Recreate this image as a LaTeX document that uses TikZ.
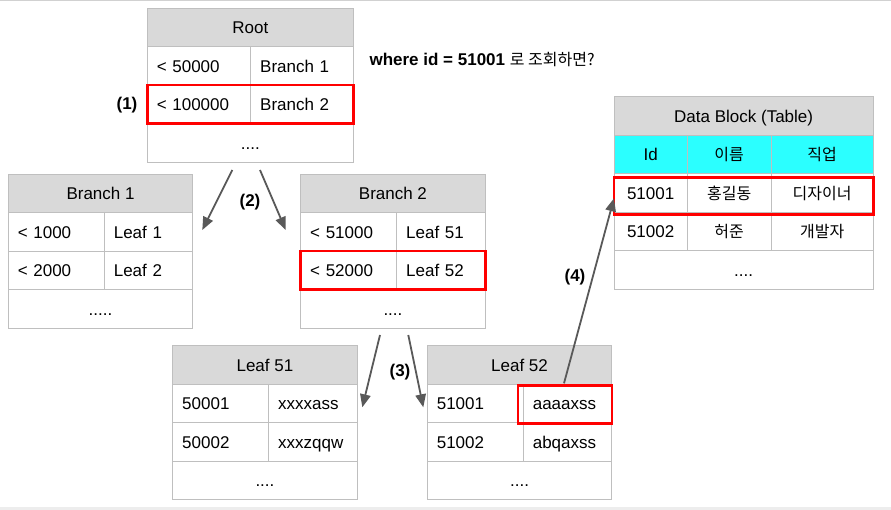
\documentclass[tikz,border=0pt]{standalone}
\usepackage{fontspec}
\setmainfont{Liberation Sans}
\newfontfamily\korfont{Noto Sans CJK KR}
\usetikzlibrary{arrows.meta,positioning}

\definecolor{linegray}{RGB}{191,191,191}
\definecolor{headgray}{RGB}{217,217,217}
\definecolor{hitred}{RGB}{255,0,0}
\definecolor{arrowgray}{RGB}{89,89,89}
\definecolor{colcyan}{RGB}{43,255,255}
\newcommand{\cellfont}{\fontsize{17}{20}\selectfont}
\newcommand{\kor}[1]{{\korfont\fontsize{16}{18}\selectfont #1}}

\tikzset{
  cell/.style={draw=linegray, line width=0.9pt, inner sep=0pt, outer sep=0pt,
    anchor=north west, minimum height=38.5pt, text height=12.6pt, text depth=0pt,
    font=\cellfont},
  head/.style={cell, fill=headgray},
  keycell/.style={cell, text width=#1, align=left, inner xsep=9.5pt},
  hit/.style={draw=hitred, line width=2.6pt},
  hop/.style={draw=arrowgray, line width=1.8pt, -{Triangle[length=13pt,width=10.5pt]}},
  steplabel/.style={font=\bfseries\cellfont},
}

\begin{document}
\begin{tikzpicture}[x=1pt,y=-1pt]
   \useasboundingbox (0,0) rectangle (891,510);
   \fill[black!18] (0,0) rectangle (891,1.5);
   \fill[black!7] (0,507) rectangle (891,510);

   % root
   \node[head, minimum width=206pt] (root) at (147.3,8) {Root};
   \node[keycell=84.4pt] (rk1) at (root.south west) {< 50000};
   \node[keycell=83.6pt] (rv1) at (rk1.north east) {Branch 1};
   \node[keycell=84.4pt] (rk2) at (rk1.south west) {< 100000};
   \node[keycell=83.6pt] (rv2) at (rk2.north east) {Branch 2};
   \node[cell, minimum width=206pt] (rdots) at (rk2.south west) {....};
   \draw[hit] (rk2.north west) rectangle (rv2.south east);

   \node[anchor=west, font=\cellfont] (query) at (366,60)
     {\textbf{where id = 51001} \kor{로 조회하면?}};

   % branch 1
   \node[head, minimum width=184.5pt] (b1) at (8.3,174) {Branch 1};
   \node[keycell=77pt] (b1k1) at (b1.south west) {< 1000};
   \node[keycell=69.5pt] (b1v1) at (b1k1.north east) {Leaf 1};
   \node[keycell=77pt] (b1k2) at (b1k1.south west) {< 2000};
   \node[keycell=69.5pt] (b1v2) at (b1k2.north east) {Leaf 2};
   \node[cell, minimum width=184.5pt] (b1dots) at (b1k2.south west) {.....};

   % branch 2
   \node[head, minimum width=184.5pt] (b2) at (300.7,174) {Branch 2};
   \node[keycell=77pt] (b2k1) at (b2.south west) {< 51000};
   \node[keycell=69.5pt] (b2v1) at (b2k1.north east) {Leaf 51};
   \node[keycell=77pt] (b2k2) at (b2k1.south west) {< 52000};
   \node[keycell=69.5pt] (b2v2) at (b2k2.north east) {Leaf 52};
   \node[cell, minimum width=184.5pt] (b2dots) at (b2k2.south west) {....};
   \draw[hit] (b2k2.north west) rectangle (b2v2.south east);

   % leaf 51
   \node[head, minimum width=184.5pt] (l51) at (172.7,345.7) {Leaf 51};
   \node[keycell=77pt] (l51k1) at (l51.south west) {50001};
   \node[keycell=69.5pt] (l51v1) at (l51k1.north east) {xxxxass};
   \node[keycell=77pt] (l51k2) at (l51k1.south west) {50002};
   \node[keycell=69.5pt] (l51v2) at (l51k2.north east) {xxxzqqw};
   \node[cell, minimum width=184.5pt] (l51dots) at (l51k2.south west) {....};

   % leaf 52
   \node[head, minimum width=184.5pt] (l52) at (427.3,345.7) {Leaf 52};
   \node[keycell=77pt] (l52k1) at (l52.south west) {51001};
   \node[keycell=69.5pt] (l52v1) at (l52k1.north east) {aaaaxss};
   \node[keycell=77pt] (l52k2) at (l52k1.south west) {51002};
   \node[keycell=69.5pt] (l52v2) at (l52k2.north east) {abqaxss};
   \node[cell, minimum width=184.5pt] (l52dots) at (l52k2.south west) {....};
   \draw[hit] ([xshift=-5.5pt,yshift=-1pt]l52v1.north west) rectangle ([yshift=-1pt]l52v1.south east);

   % data block
   \node[head, minimum width=259.3pt] (data) at (614,96.8) {Data Block (Table)};
   \node[cell, fill=colcyan, minimum width=73.3pt] (dc1) at (data.south west) {Id};
   \node[cell, fill=colcyan, minimum width=83.7pt] (dc2) at (dc1.north east) {\kor{이름}};
   \node[cell, fill=colcyan, minimum width=102.3pt] (dc3) at (dc2.north east) {\kor{직업}};
   \node[cell, minimum width=73.3pt] (dk1) at (dc1.south west) {51001};
   \node[cell, minimum width=83.7pt] (dn1) at (dk1.north east) {\kor{홍길동}};
   \node[cell, minimum width=102.3pt] (dj1) at (dn1.north east) {\kor{디자이너}};
   \node[cell, minimum width=73.3pt] (dk2) at (dk1.south west) {51002};
   \node[cell, minimum width=83.7pt] (dn2) at (dk2.north east) {\kor{허준}};
   \node[cell, minimum width=102.3pt] (dj2) at (dn2.north east) {\kor{개발자}};
   \node[cell, minimum width=259.3pt] (ddots) at (dk2.south west) {....};
   \draw[hit] ([yshift=-4pt]dk1.north west) rectangle ([yshift=-2pt]dj1.south east);

   % steps
   \coordinate (r out1) at (232.3,170);
   \coordinate (b1 in) at (202.3,230);
   \coordinate (r out2) at (260,170);
   \coordinate (b2 in) at (285.7,230);
   \coordinate (b2 out1) at (380,335);
   \coordinate (l51 in) at (362.3,407.3);
   \coordinate (b2 out2) at (408.3,335);
   \coordinate (l52 in) at (423.3,407.3);
   \coordinate (l52 out) at (564,383.3);
   \coordinate (data in) at (614,198.3);

   \draw[hop] (r out1) -- (b1 in);
   \draw[hop] (r out2) -- (b2 in);
   \draw[hop] (b2 out1) -- (l51 in);
   \draw[hop] (b2 out2) -- (l52 in);
   \draw[hop] (l52 out) -- (data in);

   \node[steplabel] (s1) at (127,104.7) {(1)};
   \node[steplabel] (s2) at (250,202) {(2)};
   \node[steplabel] (s3) at (400,372) {(3)};
   \node[steplabel] (s4) at (575,277) {(4)};
\end{tikzpicture}
\end{document}
